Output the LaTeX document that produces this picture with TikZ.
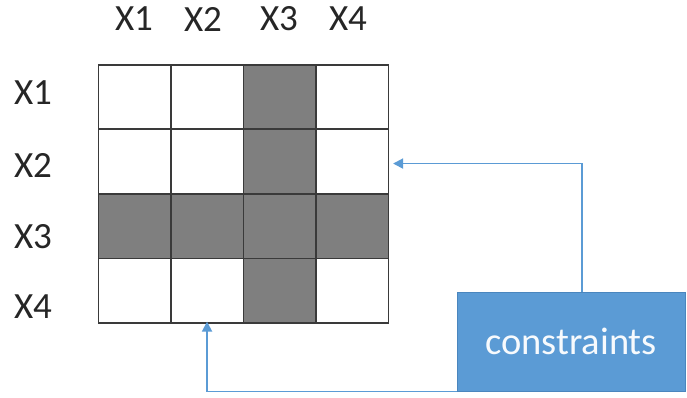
\documentclass[tikz,border=0pt]{standalone}
\usepackage{fontspec}
\setmainfont{Carlito}
\usetikzlibrary{arrows.meta,calc}
\definecolor{cellgray}{HTML}{7F7F7F}
\definecolor{gridline}{HTML}{3A3A3A}
\definecolor{boxblue}{HTML}{5B9BD5}
\definecolor{boxedge}{HTML}{4A86BE}
\definecolor{textgray}{HTML}{262626}
\begin{document}
\begin{tikzpicture}[x=1pt,y=-1pt,
  cell/.style={draw=gridline,line width=1.6pt,minimum width=72.5pt,minimum height=64.5pt,inner sep=0pt,anchor=north west},
  lab/.style={font=\fontsize{37}{37}\selectfont,text=textgray,inner sep=0pt},
  conn/.style={draw=boxblue,line width=1.8pt,-{Triangle[length=10pt,width=10pt]}},
  consbox/.style={fill=boxblue,draw=boxedge,line width=1pt,minimum width=228pt,minimum height=99pt,inner sep=0pt,font=\fontsize{38.5}{38.5}\selectfont,text=white!95!boxblue}]
\useasboundingbox (0,0) rectangle (687,398);
\fill[white] (0,0) rectangle (687,398);
\foreach \r in {1,...,4}{
  \foreach \c in {1,...,4}{
    \pgfmathsetmacro{\isgray}{(\r==3 || \c==3) ? 1 : 0}
    \ifdim\isgray pt>0.5pt
      \node[cell,fill=cellgray] (c-\r-\c) at ({97.5+(\c-1)*72.5},{64+(\r-1)*64.5}) {};
    \else
      \node[cell,fill=white] (c-\r-\c) at ({97.5+(\c-1)*72.5},{64+(\r-1)*64.5}) {};
    \fi
  }
}
\node[lab] (h1) at (134,19) {X1};
\node[lab] (h2) at (203,19) {X2};
\node[lab] (h3) at (279,19) {X3};
\node[lab] (h4) at (348,19) {X4};
\node[lab] (r1) at (33,93) {X1};
\node[lab] (r2) at (33,165) {X2};
\node[lab] (r3) at (33,237) {X3};
\node[lab] (r4) at (33,307) {X4};
\node[consbox] (cons) at (571,341.5) {constraints};
\coordinate (up) at ([xshift=10.7pt]cons.north);
\coordinate (t1) at ([xshift=4pt,yshift=-2pt]c-2-4.east);
\draw[conn] (up) |- (t1);
\coordinate (t2) at ([yshift=2pt]c-4-2.south);
\draw[conn] (cons.south west) -| (t2);
\end{tikzpicture}
\end{document}
